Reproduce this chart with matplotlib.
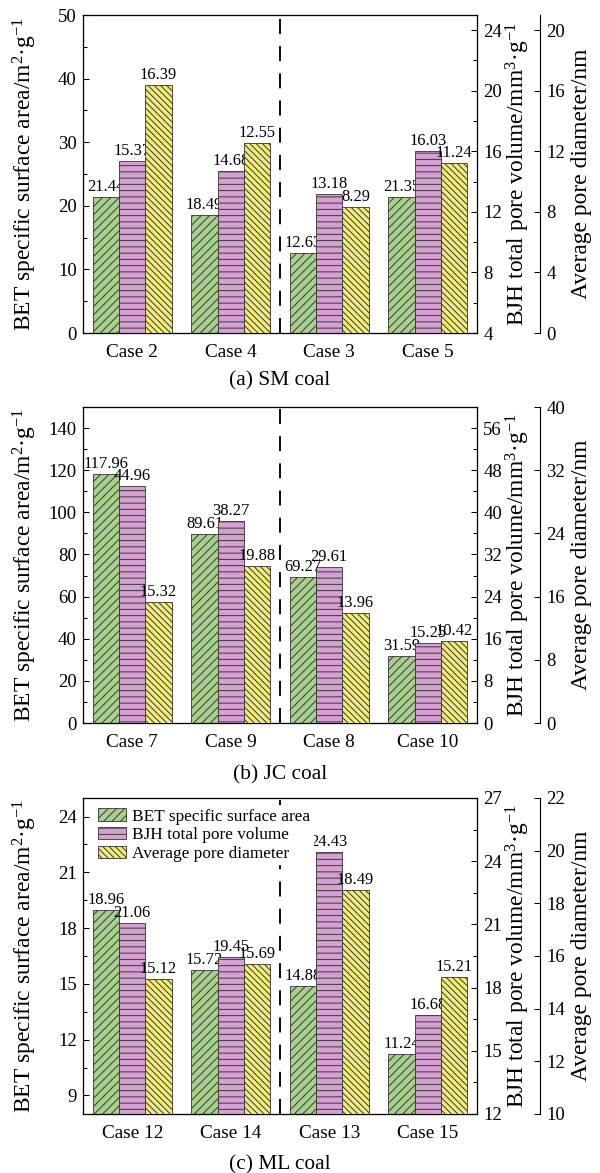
import matplotlib
matplotlib.use("Agg")
import matplotlib.pyplot as plt
import numpy as np
from matplotlib.ticker import MultipleLocator

# ---------------- data ----------------
cases_a = ['Case 2', 'Case 4', 'Case 3', 'Case 5']
bet_a = [21.44, 18.49, 12.63, 21.35]
bjh_a = [15.37, 14.68, 13.18, 16.03]
apd_a = [16.39, 12.55, 8.29, 11.24]

cases_b = ['Case 7', 'Case 9', 'Case 8', 'Case 10']
bet_b = [117.96, 89.61, 69.27, 31.59]
bjh_b = [44.96, 38.27, 29.61, 15.25]
apd_b = [15.32, 19.88, 13.96, 10.42]

cases_c = ['Case 12', 'Case 14', 'Case 13', 'Case 15']
bet_c = [18.96, 15.72, 14.88, 11.24]
bjh_c = [21.06, 19.45, 24.43, 16.68]
apd_c = [15.12, 15.69, 18.49, 15.21]

titles = ['(a) SM coal', '(b) JC coal', '(c) ML coal']
series_names = ['BET specific surface area', 'BJH total pore volume', 'Average pore diameter']

# ---------------- style ----------------
plt.rcParams['font.family'] = ['Liberation Serif', 'DejaVu Serif']
plt.rcParams['mathtext.fontset'] = 'custom'
plt.rcParams['mathtext.rm'] = 'Liberation Serif'
plt.rcParams['mathtext.it'] = 'Liberation Serif:italic'
plt.rcParams['hatch.linewidth'] = 0.9

C_GREEN = '#a9d18e'
C_PINK = '#d6a0d2'
C_YELLOW = '#f1ec7a'
EDGE = '#333333'

DPI = 75
fig = plt.figure(figsize=(600 / DPI, 1173 / DPI), dpi=DPI)

W, H = 600.0, 1173.0
ax_left, ax_right = 83, 477
panels = [
    dict(top=15, bottom=333, cases=cases_a, bet=bet_a, bjh=bjh_a, apd=apd_a,
         lim1=(0, 50), t1=10, m1=5, lim2=(4, 25), t2=4, m2=2, t2start=4,
         lim3=(0, 21), t3=4, t3start=0, title_y=381),
    dict(top=407, bottom=723, cases=cases_b, bet=bet_b, bjh=bjh_b, apd=apd_b,
         lim1=(0, 150), t1=20, m1=10, lim2=(0, 60), t2=8, m2=4, t2start=0,
         lim3=(0, 40), t3=8, t3start=0, title_y=775),
    dict(top=798, bottom=1114, cases=cases_c, bet=bet_c, bjh=bjh_c, apd=apd_c,
         lim1=(8, 25), t1=3, m1=1.5, lim2=(12, 27), t2=3, m2=1.5, t2start=12,
         lim3=(10, 22), t3=2, t3start=10, title_y=1165),
]

bw = 0.267
TICK_FS = 18
XTICK_FS = 18.5
BAR_FS = 15.8
LAB_FS = 22.5

for i, p in enumerate(panels):
    rect = [ax_left / W, 1 - p['bottom'] / H, (ax_right - ax_left) / W,
            (p['bottom'] - p['top']) / H]
    ax = fig.add_axes(rect)
    ax2 = ax.twinx()
    ax3 = ax.twinx()
    ax3.spines['right'].set_position(('axes', 1.16))
    for s in ['left', 'top', 'bottom']:
        ax3.spines[s].set_visible(False)

    x = np.arange(len(p['cases']))
    b1 = ax.bar(x - bw, p['bet'], bw, color=C_GREEN, edgecolor=EDGE, lw=0.8,
                hatch='///', label=series_names[0])
    b2 = ax2.bar(x, p['bjh'], bw, color=C_PINK, edgecolor=EDGE, lw=0.8,
                 hatch='--', label=series_names[1])
    b3 = ax3.bar(x + bw, p['apd'], bw, color=C_YELLOW, edgecolor=EDGE, lw=0.8,
                 hatch='\\\\\\\\', label=series_names[2])

    for a, bars in ((ax, b1), (ax2, b2), (ax3, b3)):
        a.bar_label(bars, fmt='%.2f', padding=2, fontsize=BAR_FS)

    ax.axvline(1.5, color='black', lw=1.8, dashes=(8, 6.5), zorder=0)

    ax.set_xlim(-0.5, len(p['cases']) - 0.5)
    ax.set_xticks(x)
    ax.set_xticklabels(p['cases'], fontsize=XTICK_FS)
    ax.tick_params(axis='x', length=0, pad=11)

    ax.set_ylim(*p['lim1'])
    ax.yaxis.set_major_locator(MultipleLocator(p['t1']))
    ax.yaxis.set_minor_locator(MultipleLocator(p['m1']))
    ax.tick_params(axis='y', which='major', direction='in', length=6, width=1,
                   labelsize=TICK_FS, pad=6)
    ax.tick_params(axis='y', which='minor', direction='in', length=3.5, width=1)

    ax2.set_ylim(*p['lim2'])
    ax2.set_yticks(np.arange(p['t2start'], p['lim2'][1] + 0.01, p['t2']))
    ax2.yaxis.set_minor_locator(MultipleLocator(p['m2']))
    ax2.tick_params(axis='y', which='major', direction='in', length=6, width=1,
                    labelsize=TICK_FS, pad=6)
    ax2.tick_params(axis='y', which='minor', direction='in', length=3.5, width=1)

    ax3.set_ylim(*p['lim3'])
    ax3.set_yticks(np.arange(p['t3start'], p['lim3'][1] + 0.01, p['t3']))
    ax3.tick_params(axis='y', which='major', direction='in', length=6, width=1,
                    labelsize=TICK_FS, pad=6)
    ax3.yaxis.set_minor_locator(plt.NullLocator())

    for a in (ax, ax2, ax3):
        for s in a.spines.values():
            s.set_linewidth(1.1)

    yc = 1 - (p['top'] + p['bottom']) / 2 / H
    fig.text(25 / W, yc, 'BET specific surface area/m$^{2}$·g$^{-1}$',
             rotation=90, ha='center', va='center', fontsize=LAB_FS)
    fig.text(518 / W, yc, 'BJH total pore volume/mm$^{3}$·g$^{-1}$',
             rotation=90, ha='center', va='center', fontsize=LAB_FS)
    fig.text(582 / W, yc, 'Average pore diameter/nm',
             rotation=90, ha='center', va='center', fontsize=LAB_FS)

    fig.text(280 / W, 1 - p['title_y'] / H, titles[i], ha='center', va='center',
             fontsize=20.5)

    if i == 2:
        leg = ax3.legend([b1, b2, b3], series_names, loc='upper left',
                         bbox_to_anchor=(0.029, 0.978), borderaxespad=0,
                         fontsize=16.6, frameon=True, facecolor='white',
                         edgecolor='none', framealpha=1, borderpad=0.2,
                         handlelength=1.6, handleheight=0.7, handletextpad=0.4,
                         labelspacing=0.15)

fig.savefig('out.png', dpi=DPI)
